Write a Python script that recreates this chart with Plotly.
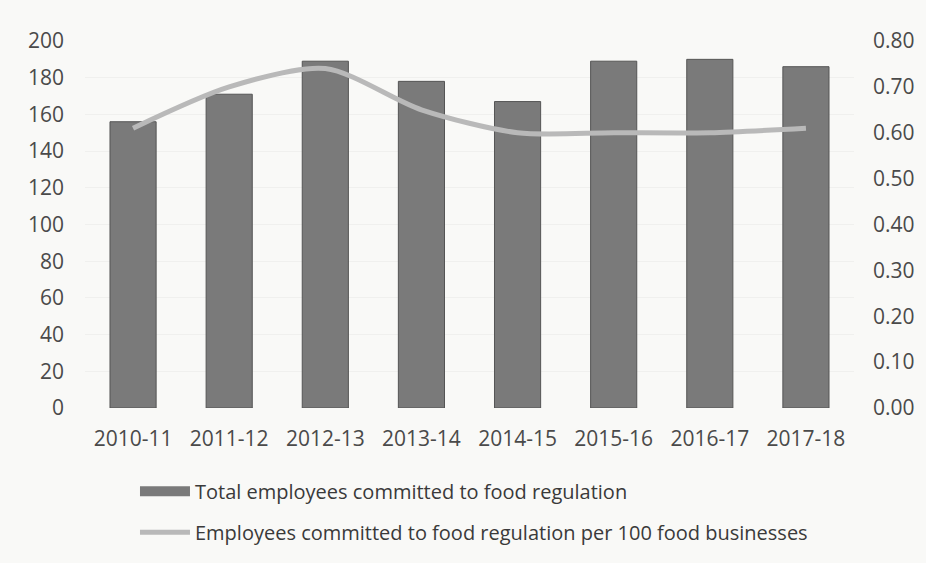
import plotly.graph_objects as go

# Financial years
years = ["2010-11", "2011-12", "2012-13", "2013-14", "2014-15", "2015-16", "2016-17", "2017-18"]
# Total employees committed to food regulation (left axis)
total_employees = [156, 171, 189, 178, 167, 189, 190, 186]
# Employees per 100 food businesses (right axis)
per_100_businesses = [0.61, 0.70, 0.74, 0.65, 0.60, 0.60, 0.60, 0.61]

bar_name = "Total employees committed to food regulation"
line_name = "Employees committed to food regulation per 100 food businesses"

bar_color = "#7a7a7a"
line_color = "#b9b9b9"
tick_font = dict(family="Open Sans, sans-serif", size=21, color="#4a4a4a")

fig = go.Figure()
fig.add_trace(go.Bar(
    x=years, y=total_employees, name=bar_name, showlegend=False,
    marker=dict(color=bar_color, line=dict(color="#555555", width=1)),
    width=0.48, yaxis="y",
))
# wide legend swatch for the bar series
fig.add_trace(go.Scatter(
    x=[None], y=[None], name=bar_name, legendgroup="a", mode="lines",
    line=dict(color=bar_color, width=13), hoverinfo="skip",
))
fig.add_trace(go.Scatter(
    x=years, y=per_100_businesses, name=line_name, legendgroup="b",
    mode="lines", line=dict(color=line_color, width=5, shape="spline", smoothing=0.8),
    yaxis="y2",
))

fig.update_layout(
    width=926, height=563,
    margin=dict(l=85, r=72, t=41, b=155, autoexpand=False),
    paper_bgcolor="#f9f9f7", plot_bgcolor="#f9f9f7",
    showlegend=True,
    legend=dict(
        x=0.065, y=-0.174, xanchor="left", yanchor="top",
        font=dict(family="Open Sans, sans-serif", size=20, color="#3a3a3a"),
        bgcolor="rgba(0,0,0,0)", itemwidth=50, tracegroupgap=12,
    ),
    xaxis=dict(
        type="category", showgrid=False, zeroline=False, showline=False,
        tickfont=tick_font, ticklabelstandoff=16, automargin=False,
    ),
    yaxis=dict(
        range=[0, 200], dtick=20, showgrid=True, gridcolor="#f0f0ee",
        zeroline=False, showline=False, tickfont=tick_font, ticklabelstandoff=20,
        automargin=False,
    ),
    yaxis2=dict(
        range=[0, 0.8], dtick=0.1, tickformat=".2f", overlaying="y", side="right",
        showgrid=False, zeroline=False, showline=False, tickfont=tick_font,
        ticklabelstandoff=18, automargin=False,
    ),
)

fig.write_html("out.html")
